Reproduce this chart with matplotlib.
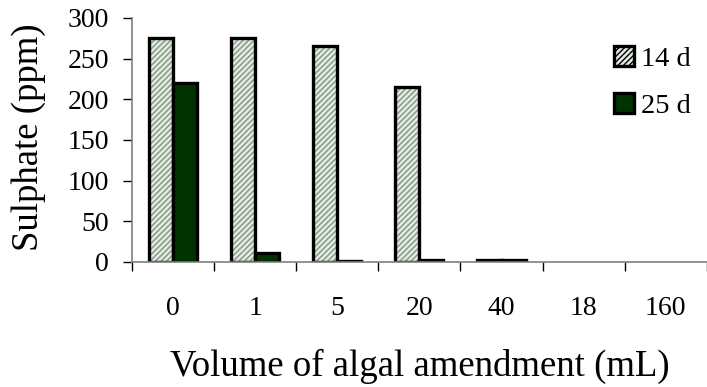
import numpy as np
import matplotlib.pyplot as plt
from matplotlib.patches import Patch

# sulphate remaining after algal amendment, two sampling days
volumes = ['0', '1', '5', '20', '40', '18', '160']
sulphate_14d = [275, 275, 265, 215, 3, np.nan, np.nan]
sulphate_25d = [220, 11, 1, 2, 2, np.nan, np.nan]
days = ['14 d', '25 d']

plt.rcParams['font.family'] = ['Liberation Serif', 'DejaVu Serif']

fig = plt.figure(figsize=(7.07, 3.87), dpi=100)
ax = fig.add_axes([0.1867, 0.323, 0.813, 0.6305])

x = np.arange(len(volumes))
w = 0.293
light = '#e2eae2'
dark = '#003300'

# hatched fill first, then outline on top so the hatch keeps its own colour
ax.bar(x - w / 2, sulphate_14d, w, color=light, hatch='//////',
       edgecolor='#7f977f', linewidth=0)
ax.bar(x - w / 2, sulphate_14d, w, facecolor='none', edgecolor='black', linewidth=2.4)
ax.bar(x + w / 2, sulphate_25d, w, color=dark, edgecolor='black', linewidth=2.4)

ax.set_xlim(-0.5, len(volumes) - 0.5)
ax.set_ylim(0, 300)
ax.set_yticks(range(0, 301, 50))
ax.set_xticks(x)
ax.set_xticklabels(volumes)
ax.set_xticks(np.arange(len(volumes) + 1) - 0.5, minor=True)

ax.tick_params(axis='x', which='major', length=0, pad=24.5, labelsize=20)
ax.tick_params(axis='x', which='minor', length=6.5, width=1, color='black', direction='out')
ax.tick_params(axis='y', length=6.5, width=1, direction='out', labelsize=20, pad=10)

for s in ['top', 'right']:
    ax.spines[s].set_visible(False)
for s in ['left', 'bottom']:
    ax.spines[s].set_color('#808080')
    ax.spines[s].set_linewidth(1.2)

ax.set_ylabel('Sulphate (ppm)', fontsize=26.5)
ax.yaxis.set_label_coords(-0.15, 0.51)
ax.set_xlabel('Volume of algal amendment (mL)', fontsize=26.5, labelpad=20)

# legend built from proxy squares
h1 = Patch(facecolor=light, hatch='//////', edgecolor='black', linewidth=2.4)
h2 = Patch(facecolor=dark, edgecolor='black', linewidth=2.4)
ax.legend([h1, h2], days, frameon=False, fontsize=20.5,
          loc='upper left', bbox_to_anchor=(614 / 707, 1 - 46 / 387),
          bbox_transform=fig.transFigure, borderpad=0, borderaxespad=0,
          handlelength=0.7, handleheight=0.7, handletextpad=0.25, labelspacing=0.73)

fig.savefig('out.png', dpi=100)
